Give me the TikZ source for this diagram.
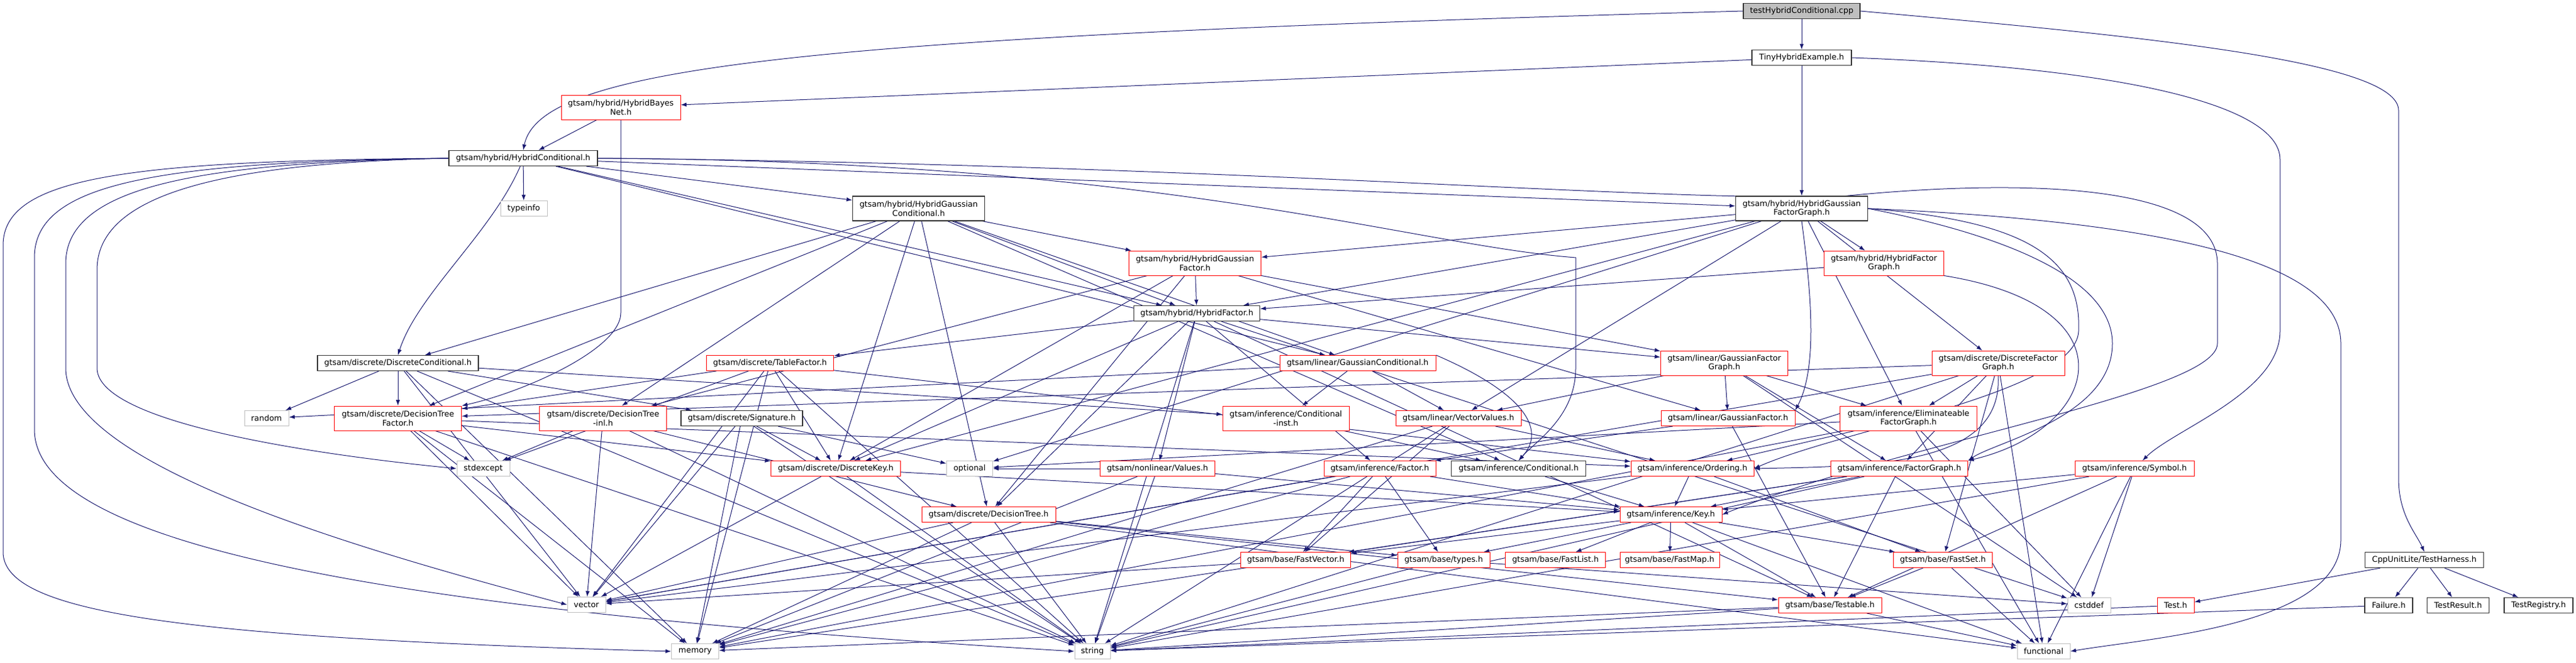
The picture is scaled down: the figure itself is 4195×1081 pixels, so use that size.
\documentclass[tikz,border=0pt]{standalone}
\usepackage{fontspec}
\setmainfont{DejaVu Sans}
\usetikzlibrary{arrows.meta}
\pgfdeclarelayer{bg}
\pgfsetlayers{bg,main}

\begin{document}
\begin{tikzpicture}[x=0.75pt,y=-0.75pt,>={Latex[length=7pt,width=5pt]},
  hdr/.style={draw=black!80,line width=0.9pt,fill=white,font=\fontsize{9.7}{11}\selectfont,
    align=center,inner xsep=3pt,inner ysep=1pt,minimum height=18.75pt},
  part/.style={hdr,draw=red,line width=0.75pt},
  sys/.style={hdr,draw=black!25,line width=0.75pt},
  root/.style={hdr,fill=black!25},
  two/.style={minimum height=30pt},
  wd/.style={minimum width=#1*0.75pt},
  dep/.style={->,draw=edgeblue,line width=0.75pt}]

\definecolor{edgeblue}{HTML}{191970}

\useasboundingbox (0,0) rectangle (4195,1081);

\node[root,wd=190] (cpp) at (2934,18) {testHybridConditional.cpp};
\node[hdr,wd=162] (tiny) at (2934,94) {TinyHybridExample.h};
\node[part,two,wd=194] (hbn) at (1011,175) {gtsam/hybrid/HybridBayes\\Net.h};
\node[hdr,wd=242] (hc) at (852,258) {gtsam/hybrid/HybridConditional.h};
\node[sys,wd=76] (typeinfo) at (853,340) {typeinfo};
\node[hdr,two,wd=215] (hgc) at (1496,340) {gtsam/hybrid/HybridGaussian\\Conditional.h};
\node[hdr,two,wd=215] (hgfg) at (2934,340) {gtsam/hybrid/HybridGaussian\\FactorGraph.h};
\node[part,two,wd=215] (hgf) at (1946,429) {gtsam/hybrid/HybridGaussian\\Factor.h};
\node[part,two,wd=195] (hfg) at (3068,429) {gtsam/hybrid/HybridFactor\\Graph.h};
\node[hdr,wd=205] (hf) at (1949,511) {gtsam/hybrid/HybridFactor.h};

\node[hdr,wd=262] (dc) at (648,592) {gtsam/discrete/DiscreteConditional.h};
\node[part,wd=207] (tf) at (1254,592) {gtsam/discrete/TableFactor.h};
\node[part,wd=254] (gc) at (2211,592) {gtsam/linear/GaussianConditional.h};
\node[part,two,wd=207] (gfg) at (2808,592) {gtsam/linear/GaussianFactor\\Graph.h};
\node[part,two,wd=216] (dfg) at (3254,592) {gtsam/discrete/DiscreteFactor\\Graph.h};

\node[sys,wd=72] (random) at (434,682) {random};
\node[part,two,wd=207] (dtf) at (648,682) {gtsam/discrete/DecisionTree\\Factor.h};
\node[part,two,wd=207] (dtinl) at (982,682) {gtsam/discrete/DecisionTree\\-inl.h};
\node[hdr,wd=198] (sig) at (1208,682) {gtsam/discrete/Signature.h};
\node[part,two,wd=206] (cinst) at (2094,682) {gtsam/inference/Conditional\\-inst.h};
\node[part,wd=204] (vv) at (2375,682) {gtsam/linear/VectorValues.h};
\node[part,wd=218] (gf) at (2814,682) {gtsam/linear/GaussianFactor.h};
\node[part,two,wd=223] (efg) at (3108,682) {gtsam/inference/Eliminateable\\FactorGraph.h};

\node[sys,wd=86] (stdexcept) at (787,764) {stdexcept};
\node[part,wd=211] (dk) at (1361,764) {gtsam/discrete/DiscreteKey.h};
\node[sys,wd=75] (optional) at (1579,764) {optional};
\node[part,wd=187] (values) at (1885,764) {gtsam/nonlinear/Values.h};
\node[part,wd=182] (factor) at (2247,764) {gtsam/inference/Factor.h};
\node[hdr,wd=219] (cond) at (2473,764) {gtsam/inference/Conditional.h};
\node[part,wd=200] (ord) at (2756,764) {gtsam/inference/Ordering.h};
\node[part,wd=223] (fg) at (3093,764) {gtsam/inference/FactorGraph.h};
\node[part,wd=194] (sym) at (3476,764) {gtsam/inference/Symbol.h};

\node[part,wd=218] (dt) at (1610,839) {gtsam/discrete/DecisionTree.h};
\node[part,wd=166] (key) at (2721,839) {gtsam/inference/Key.h};

\node[part,wd=179] (fastvec) at (2110,913) {gtsam/base/FastVector.h};
\node[part,wd=150] (types) at (2351,913) {gtsam/base/types.h};
\node[part,wd=163] (fastlist) at (2533,913) {gtsam/base/FastList.h};
\node[part,wd=162] (fastmap) at (2719,913) {gtsam/base/FastMap.h};
\node[part,wd=161] (fastset) at (3164,913) {gtsam/base/FastSet.h};
\node[hdr,wd=193] (harness) at (3948,913) {CppUnitLite/TestHarness.h};

\node[sys,wd=62] (vector) at (955,986) {vector};
\node[part,wd=168] (testable) at (2980,987) {gtsam/base/Testable.h};
\node[sys,wd=70] (cstddef) at (3402,987) {cstddef};
\node[part,wd=60] (testh) at (3543,987) {Test.h};
\node[hdr,wd=78] (failure) at (3890,987) {Failure.h};
\node[hdr,wd=101] (testresult) at (4003,987) {TestResult.h};
\node[hdr,wd=112] (testregistry) at (4134,987) {TestRegistry.h};

\node[sys,wd=77] (memory) at (1132,1062) {memory};
\node[sys,wd=58] (string) at (1779,1062) {string};
\node[sys,wd=86] (functional) at (3328,1062) {functional};

\begin{pgfonlayer}{bg}
\foreach \a/\b in {cpp/tiny, tiny/hbn, tiny/hgfg, hbn/hc,
  hc/typeinfo, hc/hgc, hc/hgfg, hc/hf, hc/gc,
  hgc/dc, hgc/hgf, hgc/hf, hgc/dtinl, hgc/dt, hgc/dk, hgc/dtf, hgc/cond, hgc/gc,
  hgfg/hf, hgfg/hfg, hgfg/hgf, hgfg/efg, hgfg/vv, hgfg/dk, hgfg/dfg, hgfg/optional,
  hfg/hf, hgf/hf, hgf/dtinl, hgf/dt, hgf/dk, hgf/gf, hgf/gfg,
  hf/tf, hf/values, hf/dt, hf/dk, hf/factor, hf/gfg, hf/testable, hf/cstddef, hf/string,
  dc/random, dc/dtf, dc/sig, dc/cinst, dc/memory, dc/string, dc/vector,
  tf/dtf, tf/dk, tf/ord, tf/memory, tf/string, tf/vector, tf/stdexcept,
  dtf/dk, dtf/ord, dtf/stdexcept, dtf/vector, dtf/memory, dtf/string,
  dtinl/dt, dtinl/stdexcept, dtinl/vector, dtinl/string,
  sig/dk, sig/vector, sig/memory, sig/string, sig/optional,
  dk/key, dk/vector, dk/string,
  dt/types, dt/testable, dt/functional, dt/memory, dt/vector, dt/string,
  values/key, values/optional, values/memory, values/string,
  gc/cinst, gc/vv, gc/random, cinst/cond,
  vv/fastvec, vv/ord, vv/string, vv/memory,
  gfg/gf, gfg/efg, gfg/fg, gfg/vv, gfg/cstddef, gf/factor, gf/testable,
  factor/fastvec, factor/types, factor/key, factor/memory, factor/vector,
  cond/key, ord/key, ord/fastset, ord/vector,
  key/fastlist, key/fastmap, key/fastset, key/fastvec, key/types, key/testable, key/functional,
  dfg/efg, dfg/fg, dfg/fastset, dfg/dtf, dfg/string, dfg/vector, dfg/functional,
  efg/ord, efg/cstddef, efg/optional, efg/memory, efg/functional,
  fg/testable, fg/key, fg/fastvec, fg/string, fg/memory,
  sym/key, sym/cstddef, sym/testable, sym/string, sym/functional,
  fastvec/vector, types/cstddef, types/string,
  fastset/testable, fastset/functional,
  testable/functional, testable/string, testable/memory,
  harness/testh, harness/testresult, harness/failure, harness/testregistry,
  testh/string, failure/string}
  \draw[dep] (\a) -- (\b);

\draw[dep] (cpp.west) .. controls (1300,60) and (880,110) .. (hc.north);
\draw[dep] (cpp.east) .. controls (3500,60) and (3906,100) .. (3906,180) -- (3906,780)
  .. controls (3906,840) and (3935,870) .. (harness.north);
\draw[dep] (tiny.east) .. controls (3450,110) and (3713,170) .. (3713,260) -- (3713,540)
  .. controls (3713,640) and (3540,700) .. (sym);

\draw[dep] (hc.west) .. controls (200,262) and (5,290) .. (5,400) -- (5,900)
  .. controls (5,1000) and (300,1040) .. (memory.west);
\draw[dep] (hc.west) .. controls (250,264) and (56,300) .. (56,420) -- (56,700)
  .. controls (56,900) and (700,1000) .. (string.west);
\draw[dep] (hc.west) .. controls (300,265) and (107,310) .. (107,430) -- (107,600)
  .. controls (107,760) and (600,900) .. (vector.west);
\draw[dep] (hc.west) .. controls (350,266) and (158,320) .. (158,440) -- (158,600)
  .. controls (158,700) and (600,750) .. (stdexcept.west);
\draw[dep] (hc.250) .. controls (800,380) and (680,480) .. (dc.north);
\draw[dep] (hbn.south) -- (1011,510) .. controls (1011,570) and (850,640) .. (dtf.north east);
\draw[dep] (hc.east) .. controls (1900,262) and (2300,400) .. (2566,420) -- (2566,600)
  .. controls (2566,680) and (2500,720) .. (cond.north);
\draw[dep] (hc.east) .. controls (2000,268) and (2700,330) .. (3000,320)
  .. controls (3300,290) and (3611,300) .. (3611,430) -- (3611,560)
  .. controls (3611,640) and (3100,720) .. (key.east);
\draw[dep] (gc.north east) .. controls (2480,640) and (2520,700) .. (cond.north);

\draw[dep] (hgfg.east) .. controls (3300,360) and (3390,420) .. (3385,540)
  .. controls (3380,640) and (3000,700) .. (ord.east);
\draw[dep] (hgfg.east) .. controls (3250,380) and (3440,450) .. (3440,560)
  .. controls (3440,680) and (3250,720) .. (fg.north east);
\draw[dep] (hgfg.east) .. controls (3500,360) and (3812,420) .. (3812,560) -- (3812,880)
  .. controls (3812,1020) and (3500,1040) .. (functional.east);
\draw[dep] (hgfg.south) .. controls (2950,480) and (2960,600) .. (gf.north east);
\draw[dep] (hfg.south east) .. controls (3480,500) and (3420,700) .. (fg.north east);
\draw[dep] (dfg.south) .. controls (3262,760) and (3050,760) .. (ord.east);
\end{pgfonlayer}

\end{tikzpicture}
\end{document}
